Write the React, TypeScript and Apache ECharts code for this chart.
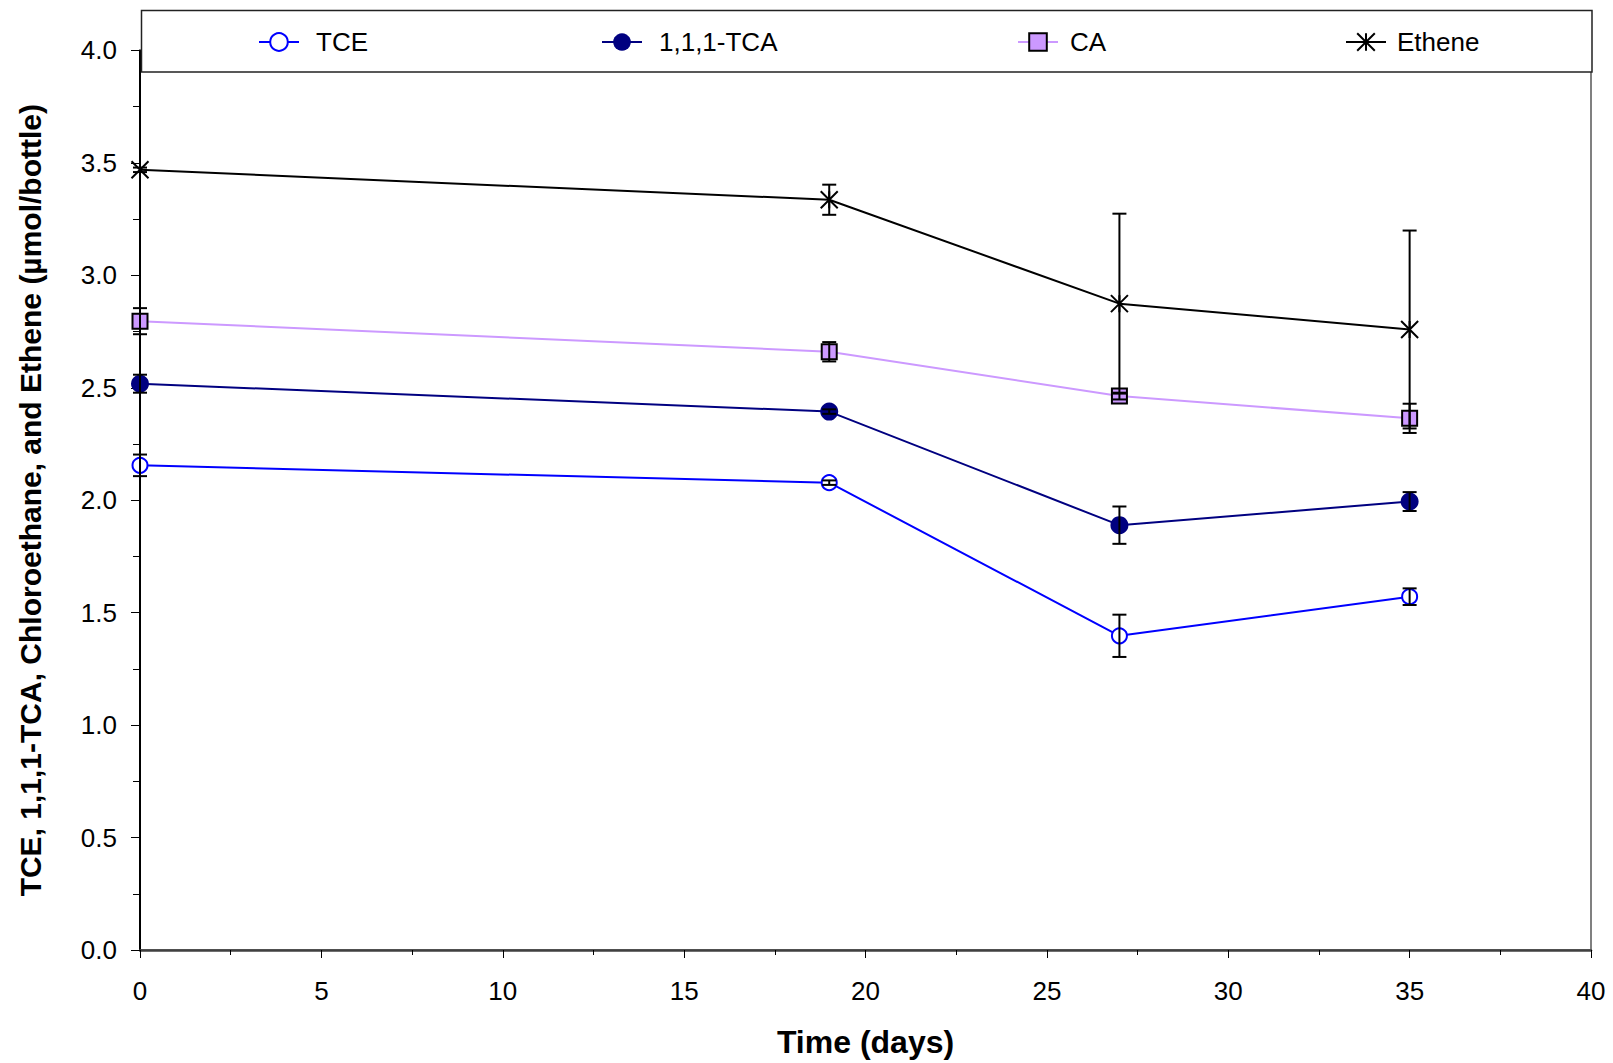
import React, { useEffect, useRef } from "react";
import * as echarts from "echarts";

const days = [0, 19, 27, 35];
const tce = [2.155, 2.078, 1.397, 1.571];
const tceErr = [0.048, 0.01, 0.094, 0.037];
const tca = [2.518, 2.394, 1.889, 1.994];
const tcaErr = [0.04, 0.01, 0.083, 0.042];
const ca = [2.796, 2.66, 2.463, 2.364];
const caErr = [0.058, 0.043, 0.015, 0.065];
const ethene = [3.469, 3.336, 2.874, 2.759];
const etheneErr = [0.01, 0.067, 0.4, 0.44];

const seriesNames = ["TCE", "1,1,1-TCA", "CA", "Ethene"];
const xTitle = "Time (days)";
const yTitle = "TCE, 1,1,1-TCA, Chloroethane, and Ethene (\u00b5mol/bottle)";

const FONT = "'Liberation Sans', Arial, Helvetica, sans-serif";

const pairs = (vals: number[]) => days.map((d, i) => [d, vals[i]]);
const errs = (vals: number[], e: number[]) =>
  days.map((d, i) => [d, vals[i] - e[i], vals[i] + e[i]]);

const starPath = "path://M0,0L10,10M10,0L0,10M5,0L5,10";

export default function App() {
  const ref = useRef<HTMLDivElement>(null);
  useEffect(() => {
    if (!ref.current) return;
    const chart = echarts.init(ref.current, null, { renderer: "svg" });
    const errorSeries = (vals: number[], e: number[]) => ({
      type: "custom",
      z: 5,
      silent: true,
      data: errs(vals, e),
      encode: { x: 0, y: [1, 2] },
      renderItem: (params: any, api: any) => {
        const x = api.value(0);
        const pHi = api.coord([x, api.value(2)]);
        const pLo = api.coord([x, api.value(1)]);
        const hw = 7;
        const style = { stroke: "#000", lineWidth: 2 };
        return {
          type: "group",
          children: [
            { type: "line", shape: { x1: pHi[0], y1: pHi[1], x2: pLo[0], y2: pLo[1] }, style },
            { type: "line", shape: { x1: pHi[0] - hw, y1: pHi[1], x2: pHi[0] + hw, y2: pHi[1] }, style },
            { type: "line", shape: { x1: pLo[0] - hw, y1: pLo[1], x2: pLo[0] + hw, y2: pLo[1] }, style },
          ],
        };
      },
    });
    const legendBase = (name: string, left: number, padLeft: number) => ({
      data: [name],
      left,
      top: 29,
      padding: 0,
      itemWidth: 40,
      itemHeight: 22,
      textStyle: { fontSize: 26, fontFamily: FONT, color: "#000", padding: [0, 0, 0, padLeft] },
    });
    chart.setOption({
      animation: false,
      textStyle: { fontFamily: FONT },
      grid: {
        left: 140,
        right: 22,
        top: 50.4,
        bottom: 111.5,
        show: true,
        borderColor: "#808080",
        borderWidth: 2,
        backgroundColor: "#fff",
      },
      graphic: [
        {
          type: "rect",
          z: 3,
          shape: { x: 141.5, y: 10.5, width: 1450.5, height: 61.5 },
          style: { fill: "#fff", stroke: "#222", lineWidth: 1.5 },
        },
      ],
      legend: [
        legendBase(seriesNames[0], 258, 12),
        legendBase(seriesNames[1], 601, 12),
        legendBase(seriesNames[2], 1017, 7),
        legendBase(seriesNames[3], 1345, 6),
      ],
      xAxis: {
        type: "value",
        min: 0,
        max: 40,
        interval: 5,
        name: xTitle,
        nameLocation: "middle",
        nameGap: 76,
        nameTextStyle: { fontSize: 32, fontWeight: "bold", color: "#000", fontFamily: FONT },
        axisLine: { show: true, onZero: false, lineStyle: { color: "#404040", width: 2.5 } },
        axisTick: { show: true, length: 8, lineStyle: { color: "#000", width: 1 } },
        minorTick: { show: true, splitNumber: 2, length: 5, lineStyle: { color: "#000", width: 1 } },
        axisLabel: { fontSize: 26, color: "#000", margin: 28, fontFamily: FONT },
        splitLine: { show: false },
      },
      yAxis: {
        type: "value",
        min: 0,
        max: 4,
        interval: 0.5,
        name: yTitle,
        nameLocation: "middle",
        nameGap: 95,
        nameTextStyle: { fontSize: 30, fontWeight: "bold", color: "#000", fontFamily: FONT },
        axisLine: { show: true, onZero: false, lineStyle: { color: "#000", width: 2 } },
        axisTick: { show: true, length: 9, lineStyle: { color: "#000", width: 1 } },
        minorTick: { show: true, splitNumber: 2, length: 7, lineStyle: { color: "#000", width: 1 } },
        axisLabel: {
          fontSize: 26,
          color: "#000",
          margin: 23,
          fontFamily: FONT,
          formatter: (v: number) => v.toFixed(1),
        },
        splitLine: { show: false },
      },
      series: [
        {
          name: seriesNames[0],
          type: "line",
          data: pairs(tce),
          symbol: "circle",
          symbolSize: 15,
          z: 3,
          lineStyle: { color: "#0000FF", width: 2 },
          itemStyle: { color: "#FFFFFF", borderColor: "#0000FF", borderWidth: 2 },
        },
        {
          name: seriesNames[1],
          type: "line",
          data: pairs(tca),
          symbol: "circle",
          symbolSize: 18,
          z: 3,
          lineStyle: { color: "#000080", width: 2 },
          itemStyle: { color: "#000080", borderColor: "#000080", borderWidth: 0 },
        },
        {
          name: seriesNames[2],
          type: "line",
          data: pairs(ca),
          symbol: "rect",
          symbolSize: 15,
          z: 3,
          lineStyle: { color: "#CC99FF", width: 2 },
          itemStyle: { color: "#CC99FF", borderColor: "#000", borderWidth: 2 },
        },
        {
          name: seriesNames[3],
          type: "line",
          data: pairs(ethene),
          symbol: starPath,
          symbolSize: 17,
          z: 3,
          lineStyle: { color: "#000", width: 2 },
          itemStyle: { color: "#000", borderColor: "#000", borderWidth: 2 },
        },
        errorSeries(tce, tceErr),
        errorSeries(tca, tcaErr),
        errorSeries(ca, caErr),
        errorSeries(ethene, etheneErr),
      ],
    });
    return () => chart.dispose();
  }, []);
  return (
    <div
      ref={ref}
      style={{ position: "fixed", left: 0, top: 0, width: 1613, height: 1063, background: "#fff" }}
    />
  );
}
